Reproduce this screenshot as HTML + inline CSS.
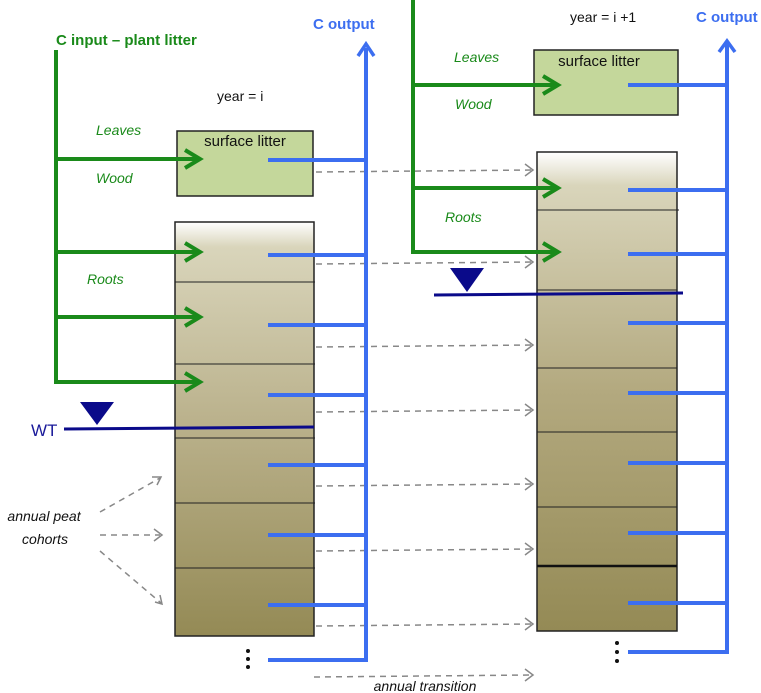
<!DOCTYPE html>
<html><head><meta charset="utf-8"><style>
html,body{margin:0;padding:0;background:#fff;}
svg{display:block;}
text{font-family:"Liberation Sans",sans-serif;}
</style></head><body>
<svg width="761" height="693" viewBox="0 0 761 693" xmlns="http://www.w3.org/2000/svg">
<defs>
<linearGradient id="peatL" x1="0" y1="0" x2="0" y2="1">
<stop offset="0" stop-color="#ffffff"/>
<stop offset="0.06" stop-color="#d9d5bb"/>
<stop offset="0.5" stop-color="#b9b08a"/>
<stop offset="1" stop-color="#948a55"/>
</linearGradient>
<linearGradient id="peatR" x1="0" y1="0" x2="0" y2="1">
<stop offset="0" stop-color="#ffffff"/>
<stop offset="0.07" stop-color="#d9d5bb"/>
<stop offset="0.5" stop-color="#b3a97f"/>
<stop offset="1" stop-color="#948a55"/>
</linearGradient>
</defs>

<rect x="177" y="131" width="136" height="65" fill="#c4d79b" stroke="#222" stroke-width="1.5"/>
<text x="245" y="146" font-size="15" text-anchor="middle" fill="#111">surface litter</text>
<rect x="175" y="222" width="139" height="414" fill="url(#peatL)" stroke="#222" stroke-width="1.5"/>
<g stroke="#222" stroke-width="1">
<line x1="175" y1="282" x2="315" y2="282"/><line x1="175" y1="364" x2="315" y2="364"/>
<line x1="175" y1="438" x2="315" y2="438"/><line x1="175" y1="503" x2="315" y2="503"/>
<line x1="175" y1="568" x2="315" y2="568"/>
</g>
<rect x="534" y="50" width="144" height="65" fill="#c4d79b" stroke="#222" stroke-width="1.5"/>
<text x="599" y="66" font-size="15" text-anchor="middle" fill="#111">surface litter</text>
<rect x="537" y="152" width="140" height="479" fill="url(#peatR)" stroke="#222" stroke-width="1.5"/>
<g stroke="#222" stroke-width="1">
<line x1="537" y1="210" x2="679" y2="210"/><line x1="537" y1="290" x2="677" y2="290"/>
<line x1="537" y1="368" x2="677" y2="368"/><line x1="537" y1="432" x2="677" y2="432"/>
<line x1="537" y1="507" x2="677" y2="507"/>
</g>
<line x1="537" y1="566" x2="677" y2="566" stroke="#111" stroke-width="2.5"/>

<g stroke="#888" stroke-width="1.5" stroke-dasharray="6,5" fill="none">
<line x1="316" y1="172" x2="532" y2="170"/><line x1="316" y1="264" x2="532" y2="262"/>
<line x1="316" y1="347" x2="532" y2="345"/><line x1="316" y1="412" x2="532" y2="410"/>
<line x1="316" y1="486" x2="532" y2="484"/><line x1="316" y1="551" x2="532" y2="549"/>
<line x1="316" y1="626" x2="532" y2="624"/><line x1="314" y1="677" x2="532" y2="675"/>
<line x1="100" y1="512" x2="160" y2="478"/><line x1="100" y1="535" x2="160" y2="535"/>
<line x1="100" y1="551" x2="161" y2="603"/>
</g>
<g stroke="#888" stroke-width="1.5" fill="none">
<polyline points="525,164 533,170 525,176"/><polyline points="525,256 533,262 525,268"/>
<polyline points="525,339 533,345 525,351"/><polyline points="525,404 533,410 525,416"/>
<polyline points="525,478 533,484 525,490"/><polyline points="525,543 533,549 525,555"/>
<polyline points="525,618 533,624 525,630"/><polyline points="525,669 533,675 525,681"/>
<polyline points="152,477 161,477 157,485"/><polyline points="154,529 162,535 154,541"/>
<polyline points="155,602 162,604 160,595"/>
</g>

<g stroke="#3c6ef0" stroke-width="4" fill="none">
<line x1="366" y1="48" x2="366" y2="662"/>
<polyline points="268,160 366,160"/><polyline points="268,255 366,255"/>
<polyline points="268,325 366,325"/><polyline points="268,395 366,395"/>
<polyline points="268,465 366,465"/><polyline points="268,535 366,535"/>
<polyline points="268,605 366,605"/><polyline points="268,660 366,660"/>
<polyline points="358,56 366,44 374,56" stroke-width="3.5"/>
<line x1="727" y1="44" x2="727" y2="654"/>
<polyline points="628,85 727,85"/><polyline points="628,190 727,190"/>
<polyline points="628,254 727,254"/><polyline points="628,323 727,323"/>
<polyline points="628,393 727,393"/><polyline points="628,463 727,463"/>
<polyline points="628,533 727,533"/><polyline points="628,603 727,603"/>
<polyline points="628,652 727,652"/>
<polyline points="719,52 727,41 735,52" stroke-width="3.5"/>
</g>

<g stroke="#1a8a1a" stroke-width="4" fill="none">
<polyline points="56,50 56,382 200,382"/>
<line x1="56" y1="159" x2="200" y2="159"/><line x1="56" y1="252" x2="200" y2="252"/>
<line x1="56" y1="317" x2="200" y2="317"/>
<polyline points="185,150 200,159 185,168"/><polyline points="185,243 200,252 185,261"/>
<polyline points="185,308 200,317 185,326"/><polyline points="185,373 200,382 185,391"/>
<polyline points="413,0 413,252 558,252"/>
<line x1="413" y1="85" x2="558" y2="85"/><line x1="413" y1="188" x2="558" y2="188"/>
<polyline points="543,76 558,85 543,94"/><polyline points="543,179 558,188 543,197"/>
<polyline points="543,243 558,252 543,261"/>
</g>

<line x1="64" y1="429" x2="314" y2="427" stroke="#0a0a8a" stroke-width="3"/>
<polygon points="80,402 114,402 97,425" fill="#0a0a8a"/>
<line x1="434" y1="295" x2="683" y2="293" stroke="#0a0a8a" stroke-width="3"/>
<polygon points="450,268 484,268 467,292" fill="#0a0a8a"/>
<text x="31" y="436" font-size="17" fill="#1a1a9a">WT</text>

<g fill="#111"><circle cx="248" cy="651" r="2"/><circle cx="248" cy="659" r="2"/><circle cx="248" cy="667" r="2"/>
<circle cx="617" cy="643" r="2"/><circle cx="617" cy="652" r="2"/><circle cx="617" cy="661" r="2"/></g>

<text x="56" y="45" font-size="15" font-weight="bold" fill="#1a8a1a">C input – plant litter</text>
<text x="313" y="29" font-size="15" font-weight="bold" fill="#3c6ef0">C output</text>
<text x="696" y="22" font-size="15" font-weight="bold" fill="#3c6ef0">C output</text>
<text x="217" y="101" font-size="14" fill="#111">year = i</text>
<text x="570" y="22" font-size="14" fill="#111">year = i +1</text>
<g font-size="14" font-style="italic" fill="#1a8a1a">
<text x="96" y="135">Leaves</text><text x="96" y="183">Wood</text><text x="87" y="284">Roots</text>
<text x="454" y="62">Leaves</text><text x="455" y="109">Wood</text><text x="445" y="222">Roots</text>
</g>
<g font-size="14" font-style="italic" fill="#111">
<text x="44" y="521" text-anchor="middle">annual peat</text>
<text x="45" y="544" text-anchor="middle">cohorts</text>
<text x="425" y="691" text-anchor="middle">annual transition</text>
</g>
</svg>
</body></html>
